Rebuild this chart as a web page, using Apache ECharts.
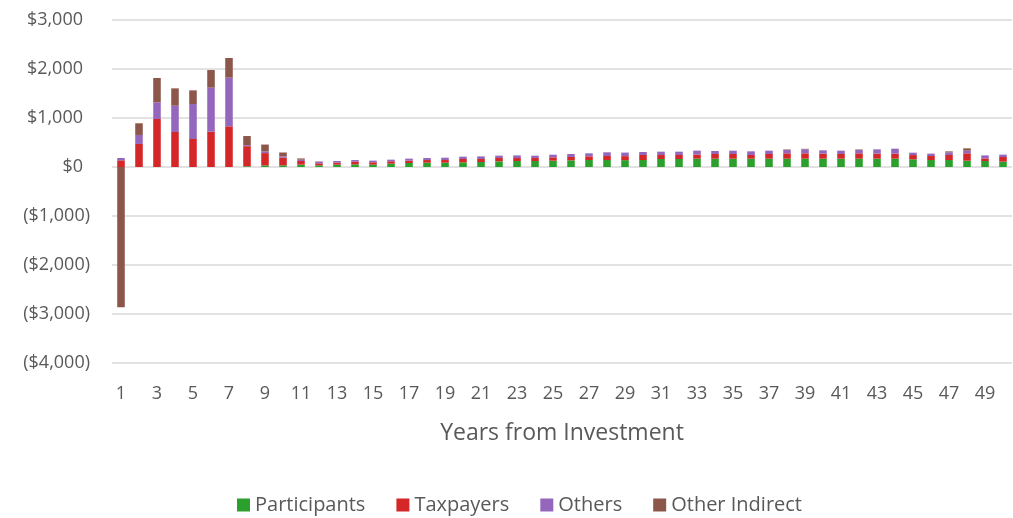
<!DOCTYPE html>
<html>
<head>
<meta charset="utf-8">
<script src="https://cdn.jsdelivr.net/npm/echarts@6/dist/echarts.min.js"></script>
<style>
  html, body { margin: 0; padding: 0; background: #fff; }
  #main { width: 1013px; height: 518px; }
</style>
</head>
<body>
<div id="main"></div>
<script>
var years = [];
for (var i = 1; i <= 50; i++) years.push(String(i));

// values per year
var participants = [0, 0, 0, 0, 0, 0, 0, 15, 34, 34, 48, 34, 48, 54, 48, 68, 82, 88, 88, 95,
  102, 116, 122, 122, 129, 136, 143, 143, 140, 143, 163, 163, 170, 170, 170, 170, 170, 170, 170, 170,
  170, 170, 170, 170, 156, 143, 143, 129, 122, 109];
var taxpayers = [136, 470, 980, 714, 571, 721, 830, 410, 250, 155, 75, 41, 41, 54, 48, 48, 48, 54, 54, 68,
  61, 68, 61, 61, 68, 68, 75, 82, 82, 102, 82, 82, 82, 95, 95, 75, 95, 109, 109, 102,
  95, 109, 102, 102, 88, 82, 102, 150, 54, 95];
var others = [48, 184, 340, 537, 714, 898, 993, 20, 34, 27, 27, 34, 34, 34, 34, 34, 41, 41, 48, 48,
  54, 48, 54, 48, 54, 61, 61, 75, 72, 61, 68, 68, 82, 61, 68, 75, 68, 68, 82, 68,
  68, 68, 88, 102, 48, 48, 54, 54, 61, 48];
var otherIndirect = [-2860, 238, 497, 354, 279, 360, 401, 187, 140, 80, 25, 5, 0, 0, 0, 0, 0, 0, 0, 0,
  0, 0, 0, 0, 0, 0, 0, 0, 0, 0, 0, 0, 0, 0, 0, 0, 0, 10, 10, 0,
  0, 10, 0, 0, 0, 0, 20, 48, 0, 0];

var seriesNames = ['Participants', 'Taxpayers', 'Others', 'Other Indirect'];
var seriesColors = ['#2ca02c', '#d62728', '#9467bd', '#8c564b'];
var seriesData = [participants, taxpayers, others, otherIndirect];

// accounting style: positives leave room for the closing bracket
function money(v) {
  var s = '$' + Math.abs(v).toLocaleString('en-US');
  return v < 0 ? '{n|(' + s + ')}' : '{p|' + s + '}';
}

var myChart = echarts.init(document.getElementById('main'));

var option = {
  animation: false,
  textStyle: { fontFamily: 'Open Sans', color: '#595959' },
  grid: { left: 112, right: 1, top: 20, bottom: 155 },
  legend: {
    top: 490,
    left: 232,
    icon: 'rect',
    itemWidth: 13,
    itemHeight: 13,
    itemGap: 31,
    textStyle: { fontFamily: 'Open Sans', fontSize: 20, color: '#595959' },
    data: seriesNames
  },
  xAxis: {
    type: 'category',
    data: years,
    name: 'Years from Investment',
    nameLocation: 'middle',
    nameGap: 59,
    nameTextStyle: { fontFamily: 'Open Sans', fontSize: 23, color: '#595959' },
    axisLine: { show: false },
    axisTick: { show: false },
    axisLabel: { interval: 1, fontSize: 18, color: '#595959', margin: 22 }
  },
  yAxis: {
    type: 'value',
    min: -4000,
    max: 3000,
    interval: 1000,
    axisLine: { show: false },
    axisTick: { show: false },
    axisLabel: {
      formatter: money,
      margin: 22,
      rich: {
        p: { fontFamily: 'Open Sans', fontSize: 18, color: '#595959', padding: [0, 7, 0, 0] },
        n: { fontFamily: 'Open Sans', fontSize: 18, color: '#595959' }
      }
    },
    splitLine: { lineStyle: { color: '#d9d9d9', width: 1.5 } }
  },
  series: seriesNames.map(function (name, k) {
    return {
      name: name,
      type: 'bar',
      stack: 'total',
      barCategoryGap: '58%',
      itemStyle: { color: seriesColors[k] },
      data: seriesData[k]
    };
  })
};

myChart.setOption(option);
</script>
</body>
</html>
